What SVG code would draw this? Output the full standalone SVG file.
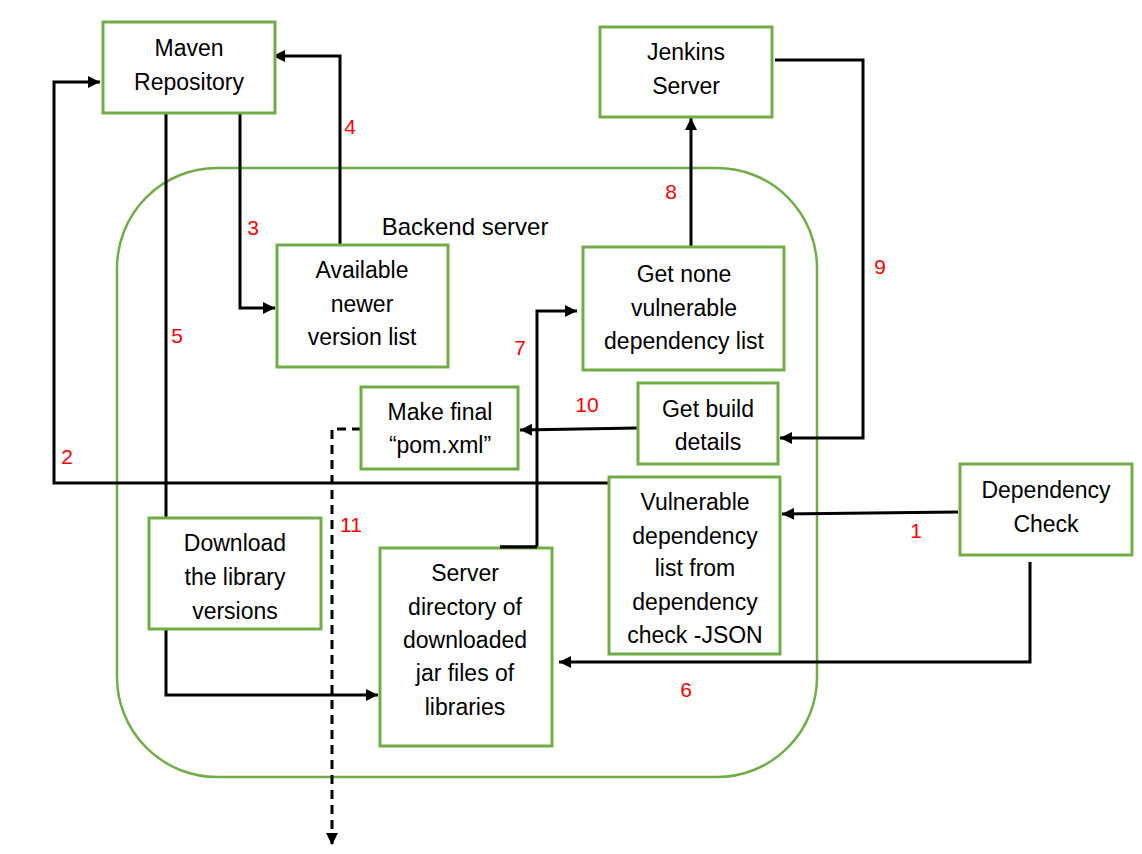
<svg xmlns="http://www.w3.org/2000/svg" width="1142" height="854" viewBox="0 0 1142 854">
<style>
.box{fill:#fff;stroke:#70AD47;stroke-width:3}
.cont{fill:none;stroke:#70AD47;stroke-width:2.5}
.t{font-family:"Liberation Sans",Arial,sans-serif;font-size:23px;fill:#000;text-anchor:middle}
.bt{font-size:24px}
.n{font-family:"Liberation Sans",Arial,sans-serif;font-size:21px;fill:#FF0000;text-anchor:middle}
.c{fill:none;stroke:#000;stroke-width:3}
.a{marker-end:url(#ah)}
.d{stroke-dasharray:9 6}
</style>
<defs>
<marker id="ah" viewBox="0 0 12 12" refX="12" refY="6" markerWidth="12" markerHeight="12" markerUnits="userSpaceOnUse" orient="auto"><path d="M0,0 L12,6 L0,12 z" fill="#000"/></marker>
</defs>
<rect width="1142" height="854" fill="#fff"/>
<g id="backend">
<rect class="cont" x="117" y="168" width="700" height="609" rx="100" ry="100"/>
<text class="t bt" x="465" y="235">Backend server</text>
</g>
<g id="connectors">
<path class="c a" d="M958,512 L782,514"/>
<path class="c a" d="M610,483 L54,483 L54,82 L100,82"/>
<path class="c a" d="M240,113 L240,308 L275,308"/>
<path class="c a" d="M340,245 L340,56 L273,56"/>
<path class="c a" d="M166,113 L166,695 L378,695"/>
<path class="c a" d="M1030,562 L1030,662 L559,662"/>
<path class="c a" d="M500,547 L537,547 L537,311 L577,311"/>
<path class="c a" d="M691,247 L691,118"/>
<path class="c a" d="M775,60 L863,60 L863,438 L780,438"/>
<path class="c a" d="M638,428 L520,430"/>
<path class="c a d" d="M361,429 L332,429 L332,845"/>
<text class="n" x="916" y="538">1</text>
<text class="n" x="67" y="464">2</text>
<text class="n" x="253" y="235">3</text>
<text class="n" x="350" y="134">4</text>
<text class="n" x="177" y="343">5</text>
<text class="n" x="686" y="697">6</text>
<text class="n" x="520" y="355">7</text>
<text class="n" x="671" y="199">8</text>
<text class="n" x="880" y="274">9</text>
<text class="n" x="587" y="412">10</text>
<text class="n" x="351" y="532">11</text>
</g>
<g id="maven">
<rect class="box" x="103" y="22" width="172" height="91"/>
<text class="t" x="189" y="56">Maven</text>
<text class="t" x="189" y="90">Repository</text>
</g>
<g id="jenkins">
<rect class="box" x="600" y="27" width="172" height="90"/>
<text class="t" x="686" y="60">Jenkins</text>
<text class="t" x="686" y="94">Server</text>
</g>
<g id="available">
<rect class="box" x="277" y="245" width="171" height="122"/>
<text class="t" x="362" y="278">Available</text>
<text class="t" x="362" y="312">newer</text>
<text class="t" x="362" y="345">version list</text>
</g>
<g id="getnone">
<rect class="box" x="583" y="247" width="201" height="123"/>
<text class="t" x="684" y="282">Get none</text>
<text class="t" x="684" y="316">vulnerable</text>
<text class="t" x="684" y="349">dependency list</text>
</g>
<g id="makefinal">
<rect class="box" x="361" y="387" width="157" height="82"/>
<text class="t" x="440" y="420">Make final</text>
<text class="t" x="440" y="453">“pom.xml”</text>
</g>
<g id="buildDetails">
<rect class="box" x="638" y="383" width="140" height="81"/>
<text class="t" x="708" y="417">Get build</text>
<text class="t" x="708" y="450">details</text>
</g>
<g id="vulnerable">
<rect class="box" x="609" y="477" width="171" height="177"/>
<text class="t" x="695" y="510">Vulnerable</text>
<text class="t" x="695" y="544">dependency</text>
<text class="t" x="695" y="576">list from</text>
<text class="t" x="695" y="610">dependency</text>
<text class="t" x="695" y="643">check -JSON</text>
</g>
<g id="depcheck">
<rect class="box" x="960" y="464" width="172" height="91"/>
<text class="t" x="1046" y="498">Dependency</text>
<text class="t" x="1046" y="532">Check</text>
</g>
<g id="download">
<rect class="box" x="149" y="518" width="172" height="111"/>
<text class="t" x="235" y="551">Download</text>
<text class="t" x="235" y="585">the library</text>
<text class="t" x="235" y="619">versions</text>
</g>
<g id="serverdir">
<rect class="box" x="380" y="548" width="172" height="198"/>
<text class="t" x="465" y="581">Server</text>
<text class="t" x="465" y="615">directory of</text>
<text class="t" x="465" y="648">downloaded</text>
<text class="t" x="465" y="681">jar files of</text>
<text class="t" x="465" y="715">libraries</text>
</g>
<path class="c" d="M500,547 L537,547"/>
</svg>
